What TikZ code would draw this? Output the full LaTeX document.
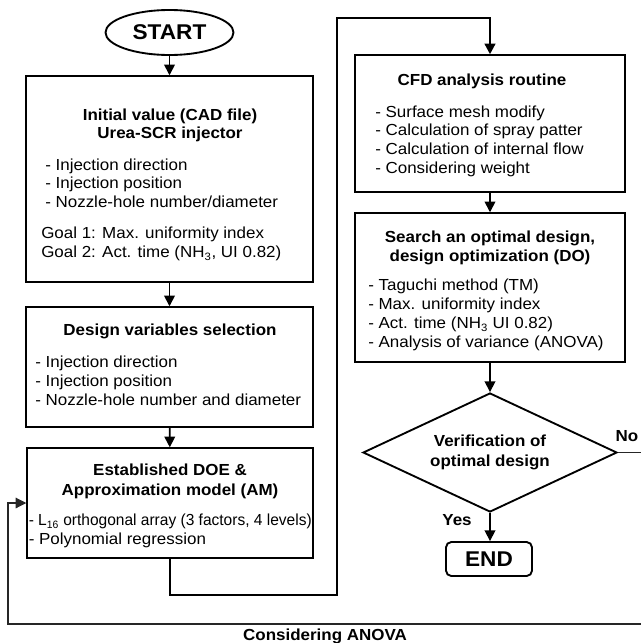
\documentclass[tikz,border=0pt]{standalone}
\usepackage{fontspec}
\usepackage{graphicx}
\setmainfont{Liberation Sans}[FakeStretch=1.06]
\usetikzlibrary{arrows.meta,shapes.geometric,fit}
\begin{document}
\begin{tikzpicture}[x=0.75pt,y=-0.75pt,
  box/.style={draw=black,line width=1.1pt,inner sep=0pt,fit={#1}},
  txt/.style={inner sep=0pt,text height=8.6pt,text depth=0pt,font=\fontsize{12}{14}\selectfont},
  ttl/.style={txt,font=\fontsize{12}{14}\selectfont\bfseries},
  lft/.style={txt,anchor=west},
  arr/.style={line width=1.2pt,-{Triangle[width=8pt,length=8pt]}},
  mainline/.style={line width=1.7pt,-{Triangle[width=8pt,length=8pt]}},
  fb/.style={line width=0.8pt,draw=black!85,-{Triangle[width=8pt,length=8pt]}}]
\useasboundingbox (0,0) rectangle (640,643);

% START
\node[draw,ellipse,line width=1.4pt,inner sep=0pt,minimum width=96pt,minimum height=33.75pt,
      font=\fontsize{16}{18}\selectfont\bfseries] (start) at (169.5,32.5) {START};

% Box 1
\node[box={(26,76)(313,282)}] (b1) {};
\node[ttl] (b1t1) at (170,115) {Initial value (CAD file)};
\node[ttl] (b1t2) at (170,133) {Urea-SCR injector};
\node[lft] (b1l1) at (45,165) {- Injection direction};
\node[lft] (b1l2) at (45,183) {- Injection position};
\node[lft] (b1l3) at (45,202) {- Nozzle-hole number/diameter};
\node[lft] (b1g1) at (41,233) {Goal 1: Max. uniformity index};
\node[lft] (b1g2) at (41,252) {Goal 2: Act. time (NH\textsubscript{3}, UI 0.82)};

% Box 2
\node[box={(26,307)(313,427)}] (b2) {};
\node[ttl] (b2t1) at (170,330) {Design variables selection};
\node[lft] (b2l1) at (35,362) {- Injection direction};
\node[lft] (b2l2) at (35,381) {- Injection position};
\node[lft] (b2l3) at (35,400) {- Nozzle-hole number and diameter};

% Box 3
\node[box={(27,448)(313,558)}] (b3) {};
\node[ttl] (b3t1) at (170,470) {Established DOE \&};
\node[ttl] (b3t2) at (170,490) {Approximation model (AM)};
\node[lft] (b3l1) at (28.5,520) {\scalebox{0.915}[1]{- L\textsubscript{16} orthogonal array (3 factors, 4 levels)}};
\node[lft] (b3l2) at (28.5,539) {- Polynomial regression};

% CFD box
\node[box={(355,55)(625,192)}] (cfd) {};
\node[ttl] (cft1) at (482,80) {CFD analysis routine};
\node[lft] (cfl1) at (375,112) {- Surface mesh modify};
\node[lft] (cfl2) at (375,130) {- Calculation of spray patter};
\node[lft] (cfl3) at (375,149) {- Calculation of internal flow};
\node[lft] (cfl4) at (375,168) {- Considering weight};

% DO box
\node[box={(355,213)(625,362)}] (do) {};
\node[ttl] (dot1) at (490,237) {Search an optimal design,};
\node[ttl] (dot2) at (490,256) {design optimization (DO)};
\node[lft] (dol1) at (368,285) {- Taguchi method (TM)};
\node[lft] (dol2) at (368,304) {- Max. uniformity index};
\node[lft] (dol3) at (368,323) {- Act. time (NH\textsubscript{3} UI 0.82)};
\node[lft] (dol4) at (368,342) {- Analysis of variance (ANOVA)};

% Decision
\node[draw,diamond,line width=1.4pt,inner sep=0pt,aspect=2.13,
      minimum width=190.5pt,minimum height=89.25pt,align=center,
      font=\fontsize{12}{15}\selectfont\bfseries] (dia) at (490,452.5) {Verification of\\optimal design};

% END
\node[draw,line width=1.4pt,rounded corners=4pt,inner sep=0pt,fit={(446,542)(532,576)}] (endbox) {};
\node[inner sep=0pt,font=\fontsize{16}{18}\selectfont\bfseries] (endtxt) at (489,559) {END};

% labels
\node[ttl] (yes) at (457,520) {Yes};
\node[ttl] (no) at (627,436) {No};
\node[ttl] (anova) at (325,635) {Considering ANOVA};

% coordinates
\coordinate (k1) at (337,595);
\coordinate (k2) at (337,18);
\coordinate (n1) at (642,624);
\coordinate (n2) at (8,624);

% connectors
\draw[arr] (start) -- (b1);
\draw[arr] (b1) -- (b2);
\draw[arr] (b2) -- (b3);
\draw[mainline] (b3.south) |- (k1) -- (k2) -| (cfd.north);
\draw[arr] (cfd) -- (do);
\draw[arr] (do) -- (dia);
\draw[arr] (dia.south) -- (endbox.north -| dia.south);
\draw[fb] (dia.east) -| (n1) -- (n2) |- (b3.west);
\end{tikzpicture}
\end{document}
